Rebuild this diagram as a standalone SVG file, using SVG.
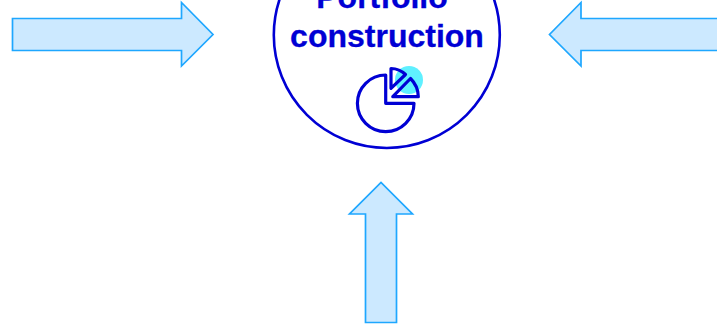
<svg xmlns="http://www.w3.org/2000/svg" width="717" height="326" viewBox="0 0 717 326">
<style>
.arrow{fill:#cce9ff;stroke:#1ea7ff;stroke-width:1.7;stroke-linejoin:miter}
.ico{fill:none;stroke:#0000d4;stroke-width:3.2;stroke-linejoin:round;stroke-linecap:round}
.t{font-family:"Liberation Sans",Arial,sans-serif;font-weight:bold;font-size:32px;fill:#0000d4;text-anchor:middle;stroke:#0000d4;stroke-width:.3}
</style>
<rect width="717" height="326" fill="#ffffff"/>
<g id="connectors">
<path class="arrow" d="M12.5 18.5H181.5V2.5L213 34.5L181.5 66V50.5H12.5Z"/>
<path class="arrow" d="M720 18.5H581V2.5L549.5 34.5L581 66V50.5H720Z"/>
<path class="arrow" d="M365.5 322.5V214H349.5L381 182.5L412.5 214H396.5V322.5Z"/>
</g>
<g id="portfolio-construction">
<circle cx="386.8" cy="35" r="113" fill="#ffffff" stroke="#0000d4" stroke-width="2.6"/>
<text class="t" x="382" y="8">Portfolio</text>
<text class="t" x="387" y="47">construction</text>
<circle cx="409" cy="80" r="14" fill="#5ff0ff"/>
<path class="ico" d="M385.7 75A28.3 28.3 0 1 0 414 103.3H385.7Z"/>
<path class="ico" d="M391 68.5A21 21 0 0 1 405.5 74.5L391 88.3Z"/>
<path class="ico" d="M392.8 96.7L410.5 78.5A26 26 0 0 1 418.3 96.7Z"/>
</g>
</svg>
